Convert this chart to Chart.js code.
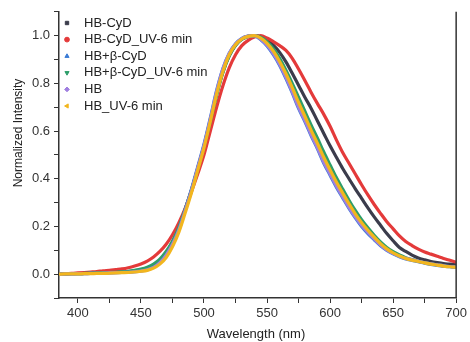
<!DOCTYPE html>
<html>
<head>
<meta charset="utf-8">
<script src="https://cdn.jsdelivr.net/npm/chart.js@4"></script>
<style>
  html, body { margin: 0; padding: 0; background: #fff; }
  #wrap { width: 470px; height: 342px; }
</style>
</head>
<body>
<div id="wrap"><canvas id="chart" width="470" height="342"></canvas></div>
<script>
// wavelength (nm)
const wavelengths = [385, 390, 395, 400, 405, 410, 415, 420, 425, 430, 435, 440, 445, 450, 455, 460,
    465, 470, 475, 480, 485, 490, 495, 500, 505, 510, 515, 520, 525, 530, 535, 540,
    545, 550, 555, 560, 565, 570, 575, 580, 585, 590, 595, 600, 605, 610, 615, 620,
    625, 630, 635, 640, 645, 650, 655, 660, 665, 670, 675, 680, 685, 690, 695, 700];

const seriesNames = ['HB-CyD', 'HB-CyD_UV-6 min', 'HB+β-CyD', 'HB+β-CyD_UV-6 min', 'HB', 'HB_UV-6 min'];

const hbCyD = [0.000, 0.001, 0.002, 0.002, 0.003, 0.004, 0.005, 0.006, 0.007, 0.008, 0.009, 0.011, 0.014, 0.018, 0.025, 0.037,
    0.058, 0.090, 0.135, 0.195, 0.270, 0.352, 0.443, 0.538, 0.645, 0.755, 0.848, 0.915, 0.960, 0.985, 0.997, 1.000,
    0.995, 0.982, 0.960, 0.930, 0.890, 0.842, 0.792, 0.742, 0.695, 0.642, 0.590, 0.538, 0.490, 0.443, 0.400, 0.358,
    0.318, 0.278, 0.240, 0.205, 0.170, 0.140, 0.112, 0.095, 0.080, 0.068, 0.060, 0.053, 0.048, 0.044, 0.042, 0.040];

const hbCyDUV = [0.000, 0.002, 0.003, 0.005, 0.007, 0.009, 0.011, 0.014, 0.016, 0.019, 0.022, 0.027, 0.034, 0.043, 0.055, 0.072,
    0.095, 0.125, 0.165, 0.215, 0.275, 0.345, 0.420, 0.500, 0.600, 0.700, 0.790, 0.865, 0.920, 0.958, 0.980, 0.994,
    1.000, 0.990, 0.975, 0.958, 0.938, 0.905, 0.860, 0.812, 0.762, 0.715, 0.670, 0.620, 0.563, 0.510, 0.465, 0.420,
    0.375, 0.332, 0.292, 0.255, 0.220, 0.190, 0.160, 0.137, 0.120, 0.105, 0.093, 0.084, 0.075, 0.066, 0.058, 0.050];

const hbBetaCyD = [0.000, 0.001, 0.001, 0.002, 0.002, 0.003, 0.003, 0.004, 0.005, 0.006, 0.007, 0.008, 0.010, 0.014, 0.020, 0.030,
    0.050, 0.082, 0.128, 0.190, 0.270, 0.355, 0.450, 0.545, 0.655, 0.770, 0.862, 0.926, 0.966, 0.989, 0.998, 0.999,
    0.983, 0.957, 0.920, 0.875, 0.820, 0.760, 0.695, 0.640, 0.580, 0.525, 0.465, 0.415, 0.365, 0.320, 0.276, 0.236,
    0.200, 0.170, 0.144, 0.119, 0.100, 0.085, 0.073, 0.064, 0.058, 0.052, 0.046, 0.041, 0.037, 0.034, 0.031, 0.029];

const hbBetaCyDUV = [0.000, 0.001, 0.002, 0.002, 0.003, 0.004, 0.005, 0.006, 0.007, 0.008, 0.010, 0.012, 0.016, 0.021, 0.029, 0.042,
    0.063, 0.095, 0.138, 0.195, 0.270, 0.350, 0.440, 0.535, 0.640, 0.750, 0.845, 0.915, 0.960, 0.985, 0.997, 1.000,
    0.993, 0.975, 0.945, 0.905, 0.855, 0.800, 0.742, 0.683, 0.625, 0.570, 0.512, 0.458, 0.405, 0.357, 0.310, 0.267,
    0.228, 0.194, 0.163, 0.135, 0.112, 0.094, 0.080, 0.069, 0.061, 0.054, 0.048, 0.043, 0.039, 0.035, 0.032, 0.030];

const hb = [0.000, 0.001, 0.001, 0.002, 0.002, 0.003, 0.003, 0.004, 0.005, 0.006, 0.007, 0.008, 0.010, 0.013, 0.018, 0.028,
    0.048, 0.080, 0.125, 0.185, 0.265, 0.350, 0.445, 0.540, 0.650, 0.765, 0.860, 0.925, 0.965, 0.988, 0.998, 1.000,
    0.985, 0.960, 0.925, 0.880, 0.825, 0.765, 0.700, 0.645, 0.585, 0.530, 0.470, 0.420, 0.370, 0.325, 0.280, 0.240,
    0.205, 0.175, 0.148, 0.122, 0.102, 0.087, 0.075, 0.066, 0.060, 0.054, 0.048, 0.043, 0.039, 0.035, 0.032, 0.030];

const hbUV = [0.000, 0.001, 0.001, 0.001, 0.002, 0.002, 0.003, 0.003, 0.004, 0.005, 0.006, 0.007, 0.009, 0.012, 0.016, 0.025,
    0.042, 0.070, 0.115, 0.175, 0.255, 0.340, 0.435, 0.530, 0.640, 0.755, 0.850, 0.920, 0.962, 0.986, 0.997, 1.000,
    0.990, 0.968, 0.935, 0.892, 0.840, 0.782, 0.720, 0.662, 0.603, 0.548, 0.490, 0.437, 0.386, 0.340, 0.295, 0.253,
    0.216, 0.184, 0.155, 0.128, 0.106, 0.089, 0.076, 0.066, 0.059, 0.053, 0.047, 0.042, 0.038, 0.034, 0.031, 0.029];

const xMajorTicks = [400, 450, 500, 550, 600, 650, 700];
const xMinorTicks = [425, 475, 525, 575, 625, 675];
const yMajorTicks = [0.0, 0.2, 0.4, 0.6, 0.8, 1.0];
const yMinorTicks = [-0.1, 0.1, 0.3, 0.5, 0.7, 0.9, 1.1];

const allSeries = [hbCyD, hbCyDUV, hbBetaCyD, hbBetaCyDUV, hb, hbUV];
const colors = ['#3b3c4c', '#e43a3a', '#3a7bd5', '#2e9e6a', '#a07fe0', '#f2b61e'];
const markers = [
    { style: 'rect', rotation: 0 },
    { style: 'circle', rotation: 0 },
    { style: 'triangle', rotation: 0 },
    { style: 'triangle', rotation: 180 },
    { style: 'rectRot', rotation: 0 },
    { style: 'triangle', rotation: -90 }
];

const FONT = '"Liberation Sans", Arial, sans-serif';
const INK = '#333';

// legend, right frame line and axis titles
const decorations = {
    id: 'decorations',
    afterDraw(chart) {
        const ctx = chart.ctx;
        const area = chart.chartArea;
        ctx.save();

        ctx.strokeStyle = INK;
        ctx.lineWidth = 1.5;
        ctx.beginPath();
        ctx.moveTo(area.right, area.top);
        ctx.lineTo(area.right, area.bottom);
        ctx.stroke();

        ctx.font = '13px ' + FONT;
        ctx.textBaseline = 'middle';
        ctx.textAlign = 'left';
        chart.data.datasets.forEach((ds, i) => {
            const y = 23 + i * 16.6;
            ctx.fillStyle = ds.borderColor;
            ctx.strokeStyle = ds.borderColor;
            ctx.lineWidth = 1;
            Chart.helpers.drawPoint(ctx, {
                pointStyle: markers[i].style,
                rotation: markers[i].rotation,
                radius: 2.4,
                borderWidth: 1
            }, 67, y);
            ctx.fillStyle = '#222';
            ctx.fillText(ds.label, 84, y);
        });

        ctx.fillStyle = '#222';
        ctx.textAlign = 'center';
        ctx.font = '13px ' + FONT;
        ctx.fillText('Wavelength (nm)', 256, 334);

        ctx.translate(19, 133);
        ctx.rotate(-Math.PI / 2);
        ctx.font = '12px ' + FONT;
        ctx.fillText('Normalized Intensity', 0, 0);
        ctx.restore();
    }
};

const datasets = allSeries.map((values, i) => ({
    label: seriesNames[i],
    data: wavelengths.map((w, j) => ({ x: w, y: values[j] })),
    borderColor: colors[i],
    backgroundColor: colors[i],
    borderWidth: 3.2,
    pointRadius: 0,
    showLine: true,
    cubicInterpolationMode: 'monotone',
    order: allSeries.length - i
}));

new Chart(document.getElementById('chart'), {
    type: 'scatter',
    data: { datasets: datasets },
    options: {
        responsive: false,
        animation: false,
        events: [],
        layout: { padding: { top: 10, right: 13, left: 0, bottom: 0 } },
        plugins: {
            legend: { display: false },
            tooltip: { enabled: false }
        },
        scales: {
            x: {
                type: 'linear',
                min: 385,
                max: 700,
                afterFit: (scale) => { scale.height = 44; },
                afterBuildTicks: (scale) => {
                    scale.ticks = xMajorTicks.concat(xMinorTicks).sort((a, b) => a - b).map(v => ({ value: v }));
                },
                ticks: {
                    autoSkip: false,
                    maxRotation: 0,
                    padding: 3,
                    color: INK,
                    font: { family: FONT, size: 13 },
                    callback: (v) => xMajorTicks.includes(v) ? String(v) : ''
                },
                grid: { drawOnChartArea: false, drawTicks: true, tickLength: 5, color: INK, lineWidth: 1 },
                border: { display: true, color: INK, width: 1.5 }
            },
            y: {
                type: 'linear',
                min: -0.1,
                max: 1.1,
                afterFit: (scale) => { scale.width = 59; },
                afterBuildTicks: (scale) => {
                    scale.ticks = yMajorTicks.concat(yMinorTicks).sort((a, b) => a - b).map(v => ({ value: v }));
                },
                ticks: {
                    autoSkip: false,
                    padding: 4,
                    color: INK,
                    font: { family: FONT, size: 13 },
                    callback: (v) => {
                        const isMajor = yMajorTicks.some(t => Math.abs(t - v) < 1e-6);
                        return isMajor ? v.toFixed(1) : '';
                    }
                },
                grid: { drawOnChartArea: false, drawTicks: true, tickLength: 5, color: INK, lineWidth: 1 },
                border: { display: true, color: INK, width: 1.5 }
            }
        }
    },
    plugins: [decorations]
});
</script>
</body>
</html>
